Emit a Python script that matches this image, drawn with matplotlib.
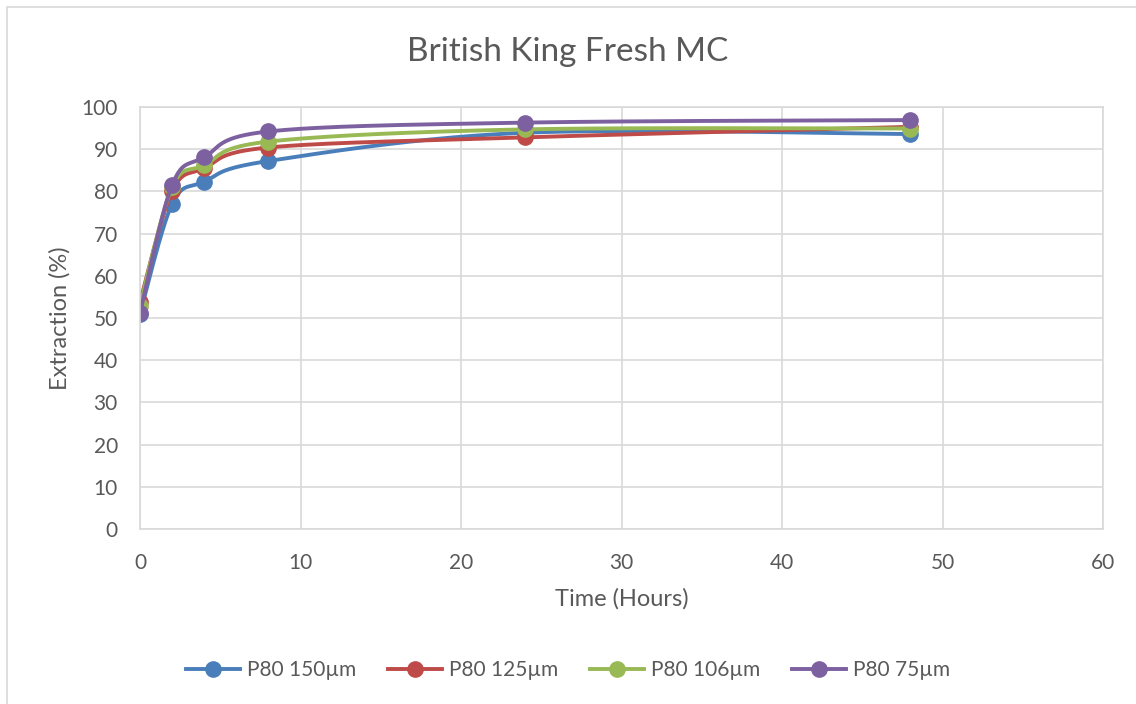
import numpy as np
import matplotlib.pyplot as plt
from matplotlib.patches import Rectangle

# Hours of extraction
hours = [0, 2, 4, 8, 24, 48]

# Extraction (%) per particle size
p80_150 = [51.0, 77.0, 82.3, 87.2, 93.9, 93.6]
p80_125 = [53.8, 80.0, 85.5, 90.4, 92.8, 95.3]
p80_106 = [52.9, 81.0, 86.2, 91.8, 94.7, 94.9]
p80_75 = [51.2, 81.5, 88.1, 94.2, 96.3, 96.9]

labels = ['P80 150µm', 'P80 125µm', 'P80 106µm', 'P80 75µm']
colors = ['#4A7EBB', '#BE4B48', '#98B954', '#7D60A0']

plt.rcParams['font.family'] = ['Lato', 'DejaVu Sans']


# Excel-like smoothed line: cubic bezier with control points at 1/6 of neighbour difference
def smooth(x, y, n=40):
    x = np.asarray(x, float)
    y = np.asarray(y, float)
    xs, ys = [], []
    for i in range(len(x) - 1):
        p0 = np.array([x[max(i - 1, 0)], y[max(i - 1, 0)]])
        p1 = np.array([x[i], y[i]])
        p2 = np.array([x[i + 1], y[i + 1]])
        p3 = np.array([x[min(i + 2, len(x) - 1)], y[min(i + 2, len(x) - 1)]])
        c1 = p1 + (p2 - p0) / 6
        c2 = p2 - (p3 - p1) / 6
        t = np.linspace(0, 1, n)[:, None]
        pts = (1 - t) ** 3 * p1 + 3 * (1 - t) ** 2 * t * c1 + 3 * (1 - t) * t ** 2 * c2 + t ** 3 * p2
        xs.extend(pts[:, 0])
        ys.extend(pts[:, 1])
    return xs, ys


fig = plt.figure(figsize=(11.36, 7.04), dpi=100)
ax = fig.add_axes([140 / 1136, 1 - 529 / 704, (1103 - 140) / 1136, (529 - 107) / 704])

# chart area border
fig.patches.append(Rectangle((7 / 1136, -0.1), 1.2, 1 - 7 / 704 + 0.1, transform=fig.transFigure,
                             fill=False, edgecolor='#D9D9D9', linewidth=1.2))

for vals, lab, col in zip([p80_150, p80_125, p80_106, p80_75], labels, colors):
    sx, sy = smooth(hours, vals)
    ax.plot(sx, sy, color=col, linewidth=2.8, solid_capstyle='round')
    ax.plot(hours, vals, 'o', color=col, markersize=11)
    ax.plot([], [], '-o', color=col, linewidth=2.8, markersize=11, label=lab)

ax.set_xlim(0, 60)
ax.set_ylim(0, 100)
ax.set_xticks(range(0, 61, 10))
ax.set_yticks(range(0, 101, 10))
ax.grid(True, color='#D9D9D9', linewidth=1.2)
ax.set_axisbelow(True)
for s in ax.spines.values():
    s.set_color('#D9D9D9')
    s.set_linewidth(1.2)
ax.tick_params(length=0, labelsize=15, colors='#595959')
ax.tick_params(axis='x', pad=17)
ax.tick_params(axis='y', pad=16)

ax.set_xlabel('Time (Hours)', fontsize=17, color='#595959')
ax.xaxis.set_label_coords(0.5, -0.14)
ax.set_ylabel('Extraction (%)', fontsize=17, color='#595959')
ax.yaxis.set_label_coords(-0.072, 0.5)
fig.text(0.5, 1 - 52 / 704, 'British King Fresh MC', ha='center', va='center', fontsize=24, color='#595959')

fig.legend(loc='center', bbox_to_anchor=(0.5, 1 - 670 / 704), ncol=4, frameon=False,
           fontsize=15, labelcolor='#595959', handlelength=2.6, columnspacing=1.55, handletextpad=0.3)

fig.savefig('out.png', dpi=100)
